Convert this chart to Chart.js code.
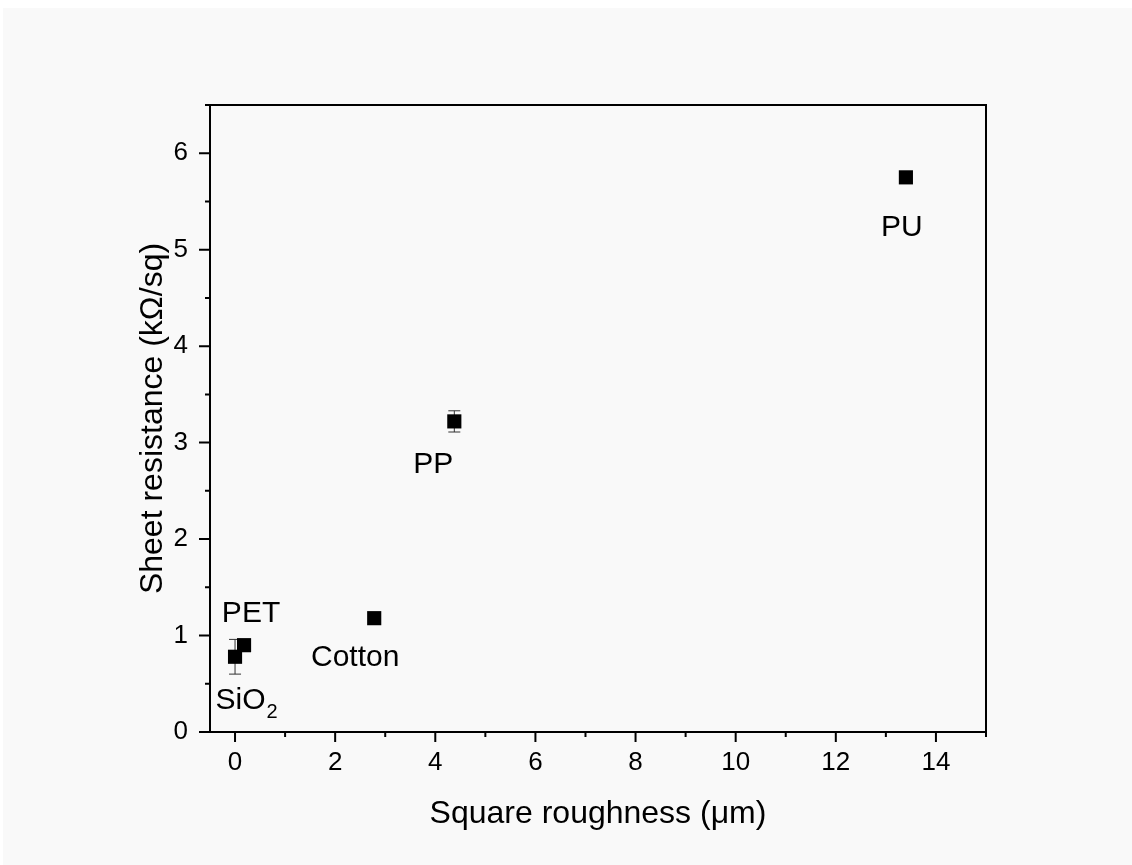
<!DOCTYPE html>
<html>
<head>
<meta charset="utf-8">
<script src="https://cdn.jsdelivr.net/npm/chart.js@4.4.1/dist/chart.umd.min.js"></script>
<style>
  html, body { margin: 0; padding: 0; background: #ffffff; }
  #wrap { width: 1132px; height: 865px; }
</style>
</head>
<body>
<div id="wrap"><canvas id="chart" width="1132" height="865"></canvas></div>
<script>
// sample data
const materials = ['SiO2', 'PET', 'Cotton', 'PP', 'PU'];
const roughness = [0, 0.18, 2.78, 4.38, 13.4];           // µm
const resistance = [0.78, 0.90, 1.18, 3.22, 5.75];       // kΩ/sq
const resistanceErr = [0.18, 0.06, 0.03, 0.11, 0.03];
const xMajorTicks = [0, 2, 4, 6, 8, 10, 12, 14];
const xMinorTicks = [1, 3, 5, 7, 9, 11, 13, 15];
const yMajorTicks = [0, 1, 2, 3, 4, 5, 6];
const yMinorTicks = [0.5, 1.5, 2.5, 3.5, 4.5, 5.5, 6.5];

// label placement relative to each point (px)
const labelOffsets = [[11, 52], [7, -23], [-19, 48], [-21, 52], [-4, 59]];

const FONT = "'Liberation Sans', Arial, sans-serif";

const bgPlugin = {
    id: 'bg',
    beforeDraw(chart) {
        const ctx = chart.ctx;
        ctx.save();
        ctx.fillStyle = '#f9f9f9';
        ctx.fillRect(3, 8, chart.width - 3, chart.height - 8);
        ctx.restore();
    }
};

const framePlugin = {
    id: 'frame',
    afterDraw(chart) {
        const ctx = chart.ctx;
        const a = chart.chartArea;
        const xs = chart.scales.x, ys = chart.scales.y;
        ctx.save();
        ctx.strokeStyle = '#000';
        ctx.lineWidth = 2;
        ctx.strokeRect(a.left, a.top, a.right - a.left, a.bottom - a.top);
        ctx.beginPath();
        xMajorTicks.forEach(v => {
            const x = xs.getPixelForValue(v);
            ctx.moveTo(x, a.bottom); ctx.lineTo(x, a.bottom + 10);
        });
        xMinorTicks.forEach(v => {
            const x = xs.getPixelForValue(v);
            ctx.moveTo(x, a.bottom); ctx.lineTo(x, a.bottom + 5);
        });
        yMajorTicks.forEach(v => {
            const y = ys.getPixelForValue(v);
            ctx.moveTo(a.left, y); ctx.lineTo(a.left - 11, y);
        });
        yMinorTicks.forEach(v => {
            const y = ys.getPixelForValue(v);
            ctx.moveTo(a.left, y); ctx.lineTo(a.left - 5, y);
        });
        ctx.stroke();
        ctx.restore();
    }
};

const errorBarPlugin = {
    id: 'errorBars',
    beforeDatasetsDraw(chart) {
        const ctx = chart.ctx;
        const xs = chart.scales.x, ys = chart.scales.y;
        ctx.save();
        ctx.strokeStyle = '#333';
        ctx.lineWidth = 1;
        roughness.forEach((rx, i) => {
            const x = xs.getPixelForValue(rx);
            const yTop = ys.getPixelForValue(resistance[i] + resistanceErr[i]);
            const yBot = ys.getPixelForValue(resistance[i] - resistanceErr[i]);
            ctx.beginPath();
            ctx.moveTo(x, yTop); ctx.lineTo(x, yBot);
            ctx.moveTo(x - 6, yTop); ctx.lineTo(x + 6, yTop);
            ctx.moveTo(x - 6, yBot); ctx.lineTo(x + 6, yBot);
            ctx.stroke();
        });
        ctx.restore();
    }
};

const labelPlugin = {
    id: 'pointLabels',
    afterDatasetsDraw(chart) {
        const ctx = chart.ctx;
        const xs = chart.scales.x, ys = chart.scales.y;
        ctx.save();
        ctx.fillStyle = '#000';
        ctx.textBaseline = 'alphabetic';
        materials.forEach((name, i) => {
            const cx = xs.getPixelForValue(roughness[i]) + labelOffsets[i][0];
            const by = ys.getPixelForValue(resistance[i]) + labelOffsets[i][1];
            if (name === 'SiO2') {
                ctx.font = '30px ' + FONT;
                const w1 = ctx.measureText('SiO').width;
                ctx.font = '20px ' + FONT;
                const w2 = ctx.measureText('2').width;
                const left = cx - (w1 + w2) / 2;
                ctx.textAlign = 'left';
                ctx.font = '30px ' + FONT;
                ctx.fillText('SiO', left, by);
                ctx.font = '20px ' + FONT;
                ctx.fillText('2', left + w1 + 1, by + 9);
            } else {
                ctx.font = '30px ' + FONT;
                ctx.textAlign = 'center';
                ctx.fillText(name, cx, by);
            }
        });
        ctx.restore();
    }
};

const ctx = document.getElementById('chart').getContext('2d');
new Chart(ctx, {
    type: 'scatter',
    data: {
        datasets: [{
            label: 'Sheet resistance',
            data: roughness.map((x, i) => ({ x: x, y: resistance[i] })),
            backgroundColor: '#000',
            borderColor: '#000',
            pointStyle: 'rect',
            pointRadius: 10,
            borderWidth: 0
        }]
    },
    options: {
        responsive: false,
        animation: false,
        layout: { padding: { top: 105, right: 146, left: 0, bottom: 0 } },
        plugins: {
            legend: { display: false },
            tooltip: { enabled: false }
        },
        scales: {
            x: {
                type: 'linear',
                min: -0.5,
                max: 15,
                grid: { display: false, drawTicks: false, tickLength: 0 },
                border: { display: false },
                ticks: {
                    stepSize: 2,
                    includeBounds: false,
                    padding: 15,
                    color: '#000',
                    font: { family: FONT, size: 26 }
                },
                title: {
                    display: true,
                    text: 'Square roughness (μm)',
                    color: '#000',
                    font: { family: FONT, size: 32 },
                    padding: { top: 0, bottom: 32 }
                },
                afterFit(scale) { scale.height = 133; }
            },
            y: {
                type: 'linear',
                min: 0,
                max: 6.5,
                grid: { display: false, drawTicks: false, tickLength: 0 },
                border: { display: false },
                ticks: {
                    stepSize: 1,
                    includeBounds: false,
                    padding: 22,
                    color: '#000',
                    font: { family: FONT, size: 26 }
                },
                title: {
                    display: true,
                    text: 'Sheet resistance (kΩ/sq)',
                    color: '#000',
                    font: { family: FONT, size: 32 },
                    padding: { top: 134, bottom: 0 }
                },
                afterFit(scale) { scale.width = 210; }
            }
        }
    },
    plugins: [bgPlugin, errorBarPlugin, labelPlugin, framePlugin]
});
</script>
</body>
</html>
